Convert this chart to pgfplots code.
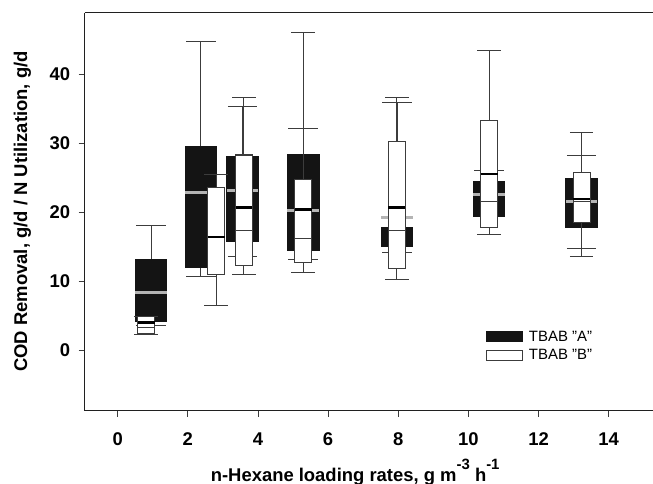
\documentclass[border=0pt]{standalone}
\usepackage{fontspec}
\setmainfont{Liberation Sans}
\usepackage{pgfplots}
\pgfplotsset{compat=1.18}
\usepgfplotslibrary{statistics}
\definecolor{boxblack}{HTML}{141414}
\definecolor{meangrey}{HTML}{B4B4B4}
\definecolor{whisk}{HTML}{3C3C3C}

\newcommand{\lblfont}{\fontsize{18.5}{20}\selectfont\bfseries}
\newcommand{\sups}[1]{\raisebox{12bp}{\fontsize{15}{15}\selectfont #1}}

\pgfplotsset{
  boxA/.style={forget plot, draw=whisk, line width=1bp,
    boxplot/draw direction=y,
    boxplot/box extend=0.9, boxplot/whisker extend=0.84,
    boxplot/every box/.style={draw=boxblack, fill=boxblack},
    boxplot/every whisker/.style={draw=whisk, line width=1bp},
    boxplot/draw/median/.code={},
    boxplot/draw/average/.code={\draw[meangrey, line width=3.2bp]
      (boxplot box cs:\pgfplotsboxplotvalue{average},0) --
      (boxplot box cs:\pgfplotsboxplotvalue{average},1);}},
  boxB/.style={forget plot, draw=whisk, line width=1.1bp,
    boxplot/draw direction=y,
    boxplot/box extend=0.48, boxplot/whisker extend=0.67,
    boxplot/every box/.style={draw=whisk, fill=white},
    boxplot/every whisker/.style={draw=whisk, line width=1bp},
    boxplot/every median/.style={draw=whisk, line width=0.9bp},
    boxplot/draw/average/.code={\draw[black, line width=2.4bp]
      (boxplot box cs:\pgfplotsboxplotvalue{average},0) --
      (boxplot box cs:\pgfplotsboxplotvalue{average},1);}},
}

\begin{document}
\begin{tikzpicture}
\begin{axis}[
  name=ax, scale only axis, width=568.3bp, height=397.8bp,
  xmin=-0.941, xmax=15.264, ymin=-8.78, ymax=48.95,
  axis x line=box, axis y line=left,
  x axis line style={-}, y axis line style={-},
  axis line style={gray!25!black, line width=1bp},
  enlargelimits=false,
  xtick={0,2,...,14}, ytick={0,10,...,40},
  xtick pos=bottom, ytick pos=left,
  tick align=outside, major tick length=6bp,
  tick style={whisk, line width=0.9bp},
  ticklabel style={font=\lblfont},
  xticklabel style={yshift=-13bp},
  yticklabel style={xshift=-5bp},
  /pgf/number format/assume math mode=true,
  xlabel={n-Hexane loading rates, g m\sups{-3} h\sups{-1}},
  ylabel={COD Removal, g/d / N Utilization, g/d},
  label style={font=\lblfont},
  xlabel style={at={([yshift=-70.5bp]axis description cs:0.2157,0)}, anchor=base west},
  ylabel style={at={([xshift=-57.5bp]axis description cs:0,0.5)}, anchor=base, rotate=0},
  legend style={at={(rel axis cs:0.7056,0.2054)}, anchor=north west, draw=none, fill=none,
    inner sep=0pt, row sep=2.5bp, font=\fontsize{15}{17}\selectfont,
    /tikz/every odd column/.append style={column sep=4bp}},
  legend cell align=left,
]
% TBAB "A": lower whisker, lower quartile, median, mean (grey), upper quartile, upper whisker
\addplot[boxA, boxplot prepared={draw position=0.955, lower whisker=3.6, lower quartile=4.1, median=8.4, average=8.4, upper quartile=13.2, upper whisker=18.0}] coordinates {};
\addplot[boxA, boxplot prepared={draw position=2.37, lower whisker=10.6, lower quartile=12.0, median=22.9, average=22.9, upper quartile=29.5, upper whisker=44.7}] coordinates {};
\addplot[boxA, boxplot prepared={draw position=3.56, lower whisker=13.6, lower quartile=15.7, median=23.1, average=23.1, upper quartile=28.1, upper whisker=35.3}] coordinates {};
\addplot[boxA, boxplot prepared={draw position=5.29, lower whisker=13.2, lower quartile=14.4, median=20.3, average=20.3, upper quartile=28.3, upper whisker=32.1}] coordinates {};
\addplot[boxA, boxplot prepared={draw position=7.97, lower whisker=14.2, lower quartile=15.0, median=16.4, average=19.2, upper quartile=17.8, upper whisker=35.9}] coordinates {};
\addplot[boxA, boxplot prepared={draw position=10.59, lower whisker=19.4, lower quartile=19.4, median=22.6, average=22.6, upper quartile=24.4, upper whisker=26.0}] coordinates {};
\addplot[boxA, boxplot prepared={draw position=13.23, lower whisker=14.8, lower quartile=17.8, median=21.5, average=21.5, upper quartile=24.9, upper whisker=28.2}] coordinates {};
% TBAB "B": thin line = median, thick black line = mean
\addplot[boxB, boxplot prepared={draw position=0.81, lower whisker=2.3, lower quartile=2.4, median=3.2, average=4.0, upper quartile=4.9, upper whisker=4.9}] coordinates {};
\addplot[boxB, boxplot prepared={draw position=2.81, lower whisker=6.4, lower quartile=10.9, median=16.4, average=16.4, upper quartile=23.6, upper whisker=25.4}] coordinates {};
\addplot[boxB, boxplot prepared={draw position=3.60, lower whisker=10.9, lower quartile=12.2, median=17.4, average=20.7, upper quartile=28.3, upper whisker=36.6}] coordinates {};
\addplot[boxB, boxplot prepared={draw position=5.29, lower whisker=11.2, lower quartile=12.7, median=16.2, average=20.4, upper quartile=24.8, upper whisker=46.1}] coordinates {};
\addplot[boxB, boxplot prepared={draw position=7.96, lower whisker=10.2, lower quartile=11.8, median=17.4, average=20.7, upper quartile=30.3, upper whisker=36.6}] coordinates {};
\addplot[boxB, boxplot prepared={draw position=10.59, lower whisker=16.7, lower quartile=17.8, median=21.5, average=25.5, upper quartile=33.3, upper whisker=43.4}] coordinates {};
\addplot[boxB, boxplot prepared={draw position=13.23, lower whisker=13.5, lower quartile=18.5, median=21.6, average=21.9, upper quartile=25.8, upper whisker=31.6}] coordinates {};

\addlegendimage{legend image code/.code={\draw[draw=boxblack, fill=boxblack, line width=0.8bp] (0bp,-5bp) rectangle (36bp,5bp);}}
\addlegendentry{TBAB "A"}
\addlegendimage{legend image code/.code={\draw[draw=whisk, fill=white, line width=1.1bp] (0bp,-5bp) rectangle (36bp,5bp);}}
\addlegendentry{TBAB "B"}
\end{axis}
\pgfresetboundingbox
\path[use as bounding box] ([shift={(-84.7bp,-73.5bp)}]ax.south west) rectangle ([shift={(0bp,12.7bp)}]ax.north east);
\end{tikzpicture}
\end{document}
